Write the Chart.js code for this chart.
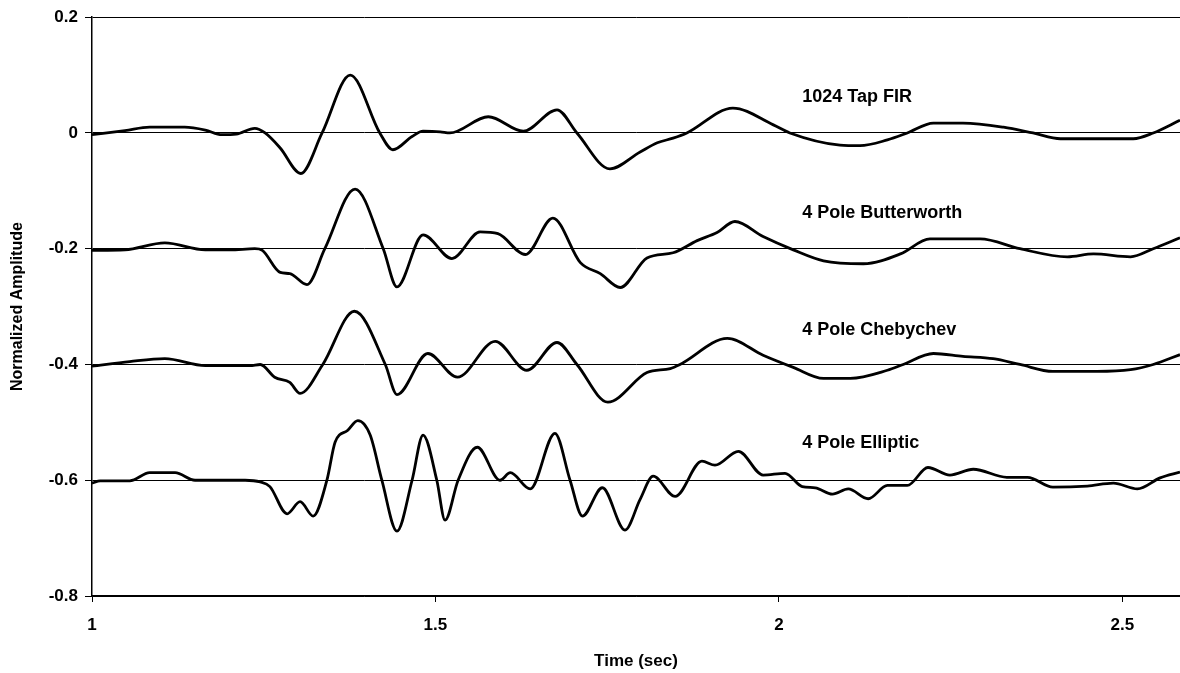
<!DOCTYPE html>
<html>
<head>
<meta charset="utf-8">
<script src="https://cdn.jsdelivr.net/npm/chart.js@4"></script>
<style>
  html, body { margin:0; padding:0; background:#fff; }
  #wrap { position:relative; width:1180px; height:673px; }
</style>
</head>
<body>
<div id="wrap"><canvas id="chart" width="1180" height="673"></canvas></div>
<script>
/* Filter responses (time in sec, normalized amplitude). */
const xTicks = [1, 1.5, 2, 2.5];
const yTicks = [0.2, 0, -0.2, -0.4, -0.6, -0.8];

const firT = [1.000,1.048,1.084,1.135,1.165,1.189,1.210,1.237,1.252,1.274,1.304,1.335,1.376,1.419,1.438,1.466,1.482,1.507,1.521,1.577,1.628,1.677,1.706,1.754,1.798,1.823,1.846,1.866,1.933,1.992,2.016,2.089,2.118,2.158,2.187,2.225,2.268,2.327,2.370,2.410,2.463,2.516,2.545,2.584];
const firY = [-0.003,0.004,0.010,0.010,0.005,-0.003,-0.002,0.008,0.000,-0.026,-0.070,0.000,0.100,0.000,-0.029,-0.006,0.003,0.002,0.000,0.028,0.003,0.040,0.000,-0.062,-0.033,-0.017,-0.009,0.000,0.043,0.014,0.000,-0.021,-0.022,-0.012,0.000,0.017,0.017,0.010,0.000,-0.010,-0.010,-0.010,0.000,0.022];

const butT = [1.000,1.048,1.106,1.165,1.201,1.237,1.248,1.274,1.288,1.313,1.339,1.383,1.424,1.444,1.482,1.524,1.565,1.591,1.631,1.671,1.711,1.740,1.769,1.808,1.846,1.881,1.910,1.936,1.977,2.021,2.065,2.123,2.177,2.220,2.293,2.351,2.420,2.458,2.512,2.545,2.584];
const butY = [-0.203,-0.202,-0.190,-0.202,-0.202,-0.200,-0.203,-0.241,-0.243,-0.262,-0.200,-0.097,-0.200,-0.266,-0.176,-0.217,-0.171,-0.174,-0.210,-0.147,-0.224,-0.243,-0.267,-0.216,-0.207,-0.186,-0.172,-0.153,-0.179,-0.202,-0.221,-0.226,-0.209,-0.183,-0.183,-0.200,-0.214,-0.209,-0.214,-0.200,-0.181];

const chebT = [1.000,1.055,1.106,1.165,1.230,1.245,1.266,1.288,1.303,1.336,1.382,1.427,1.444,1.489,1.532,1.587,1.633,1.677,1.706,1.751,1.808,1.842,1.856,1.925,1.977,2.021,2.065,2.104,2.158,2.181,2.225,2.268,2.312,2.351,2.399,2.463,2.512,2.545,2.584];
const chebY = [-0.403,-0.395,-0.390,-0.402,-0.402,-0.400,-0.422,-0.431,-0.450,-0.400,-0.308,-0.400,-0.452,-0.381,-0.422,-0.360,-0.410,-0.362,-0.400,-0.465,-0.414,-0.407,-0.400,-0.355,-0.384,-0.405,-0.424,-0.424,-0.410,-0.400,-0.381,-0.386,-0.390,-0.400,-0.412,-0.412,-0.409,-0.400,-0.383];

const ellT = [1.000,1.012,1.055,1.084,1.121,1.150,1.179,1.201,1.223,1.245,1.259,1.284,1.303,1.322,1.342,1.354,1.372,1.387,1.405,1.422,1.444,1.466,1.482,1.502,1.514,1.533,1.561,1.594,1.609,1.638,1.674,1.696,1.714,1.743,1.776,1.798,1.817,1.849,1.888,1.907,1.941,1.977,2.009,2.034,2.053,2.078,2.101,2.130,2.158,2.187,2.217,2.249,2.283,2.332,2.362,2.399,2.449,2.487,2.522,2.555,2.584];
const ellY = [-0.605,-0.601,-0.601,-0.587,-0.587,-0.600,-0.600,-0.600,-0.600,-0.603,-0.611,-0.658,-0.637,-0.662,-0.600,-0.534,-0.514,-0.497,-0.522,-0.600,-0.688,-0.600,-0.522,-0.600,-0.669,-0.600,-0.543,-0.600,-0.587,-0.615,-0.519,-0.600,-0.662,-0.613,-0.686,-0.633,-0.593,-0.628,-0.567,-0.574,-0.550,-0.591,-0.588,-0.611,-0.613,-0.624,-0.615,-0.632,-0.609,-0.609,-0.578,-0.591,-0.581,-0.595,-0.595,-0.612,-0.610,-0.605,-0.615,-0.596,-0.586];

const seriesNames = ["1024 Tap FIR", "4 Pole Butterworth", "4 Pole Chebychev", "4 Pole Elliptic"];
const labelAt = [[2.034, 0.062], [2.034, -0.138], [2.034, -0.340], [2.034, -0.535]];

const FONT = "'Liberation Sans', Arial, sans-serif";
const pts = (xs, ys) => xs.map((x, i) => ({x, y: ys[i]}));
const ds = (name, xs, ys) => ({
  label: name, data: pts(xs, ys),
  borderColor:'#000', borderWidth:2.8, pointRadius:0,
  cubicInterpolationMode:'monotone', fill:false
});

// plain text labels placed next to each trace, in data coordinates
const traceLabels = {
  id:'traceLabels',
  afterDatasetsDraw(chart) {
    const {ctx, scales:{x, y}} = chart;
    ctx.save();
    ctx.font = "bold 18px " + FONT;
    ctx.fillStyle = '#000';
    ctx.textBaseline = 'middle';
    seriesNames.forEach((s, i) => ctx.fillText(s, x.getPixelForValue(labelAt[i][0]), y.getPixelForValue(labelAt[i][1])));
    ctx.restore();
  }
};

new Chart(document.getElementById('chart'), {
  type:'line',
  data:{ datasets:[
    ds(seriesNames[0], firT, firY),
    ds(seriesNames[1], butT, butY),
    ds(seriesNames[2], chebT, chebY),
    ds(seriesNames[3], ellT, ellY),
  ]},
  options:{
    responsive:false, animation:false, events:[],
    layout:{ padding:{ top:16, right:0, left:0, bottom:0 } },
    plugins:{ legend:{display:false}, tooltip:{enabled:false} },
    scales:{
      x:{
        type:'linear', min:1, max:2.584,
        afterBuildTicks: s => { s.ticks = xTicks.map(v => ({value:v})); },
        afterFit: s => { s.height = 77; },
        grid:{ drawOnChartArea:false, color:'#000', tickLength:6, lineWidth:1 },
        border:{ color:'#000', width:1.5 },
        ticks:{ color:'#000', padding:13, font:{ family:FONT, size:17, weight:'bold' }, maxRotation:0,
          callback: v => String(v) },
        title:{ display:true, text:'Time (sec)', color:'#000', font:{ family:FONT, size:17, weight:'bold' }, padding:{top:4, bottom:1} }
      },
      y:{
        type:'linear', min:-0.8, max:0.2,
        afterBuildTicks: s => { s.ticks = yTicks.map(v => ({value:v})); },
        afterFit: s => { s.width = 92; },
        grid:{ color:'#000', tickLength:7, lineWidth:1 },
        border:{ color:'#000', width:1.5 },
        ticks:{ color:'#000', padding:7, font:{ family:FONT, size:17, weight:'bold' },
          callback: v => String(Number(v.toFixed(1))) },
        title:{ display:true, text:'Normalized Amplitude', color:'#000', font:{ family:FONT, size:16, weight:'bold' }, padding:{top:8, bottom:4} }
      }
    }
  },
  plugins:[traceLabels]
});
</script>
</body>
</html>
